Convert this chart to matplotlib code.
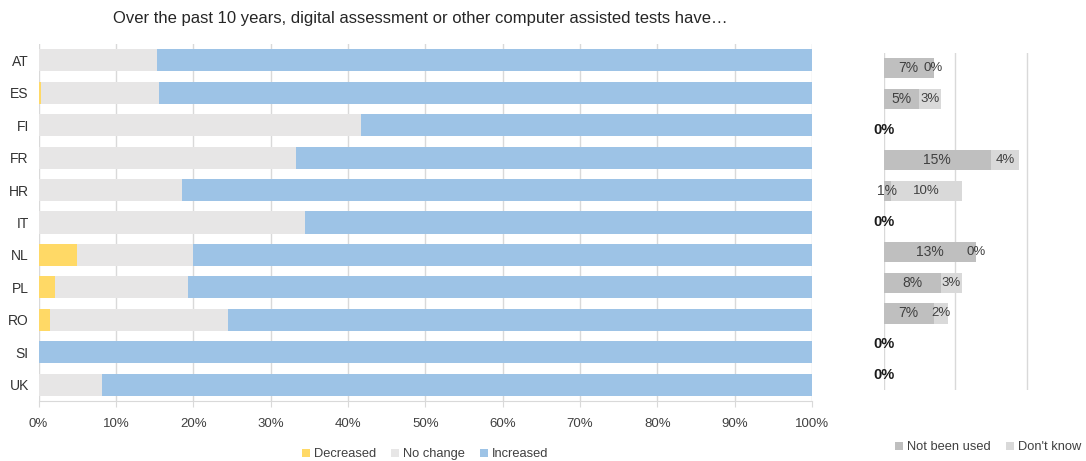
import numpy as np
import matplotlib.pyplot as plt

plt.rcParams['font.family'] = ['Liberation Sans', 'DejaVu Sans']

# Data
countries = ['AT', 'ES', 'FI', 'FR', 'HR', 'IT', 'NL', 'PL', 'RO', 'SI', 'UK']
decreased = [0.0, 0.3, 0.0, 0.0, 0.0, 0.0, 5.0, 2.1, 1.5, 0.0, 0.0]
no_change = [15.3, 15.3, 41.7, 33.3, 18.6, 34.5, 15.0, 17.2, 23.0, 0.0, 8.2]
increased = [100 - d - n for d, n in zip(decreased, no_change)]

not_used = [7, 5, 0, 15, 1, 0, 13, 8, 7, 0, 0]
dont_know = [0, 3, 0, 4, 10, 0, 0, 3, 2, 0, 0]
has_bar = [True, True, False, True, True, False, True, True, True, False, False]

title = 'Over the past 10 years, digital assessment or other computer assisted tests have…'

c_dec = '#FFD966'
c_nc = '#E7E6E6'
c_inc = '#9DC3E6'
c_nu = '#BFBFBF'
c_dk = '#D9D9D9'
txt = '#404040'

W, H = 1086, 461
fig = plt.figure(figsize=(W / 100, H / 100), dpi=100)

# left panel
ax1 = fig.add_axes([38.5 / W, 1 - 401 / H, (812 - 38.5) / W, (401 - 44) / H])
y = np.arange(len(countries))
left = np.zeros(len(countries))
for vals, col, lab in [(decreased, c_dec, 'Decreased'), (no_change, c_nc, 'No change'),
                       (increased, c_inc, 'Increased')]:
    ax1.barh(y, vals, left=left, height=0.68, color=col, label=lab, zorder=2)
    left += np.array(vals)
ax1.set_xlim(0, 100)
ax1.set_ylim(len(countries) - 0.5, -0.5)
ax1.set_yticks(y)
ax1.set_yticklabels(countries, fontsize=10, color='#333333')
ax1.set_xticks(np.arange(0, 101, 10))
ax1.set_xticklabels([f'{v}%' for v in range(0, 101, 10)], fontsize=9.5, color=txt)
ax1.tick_params(axis='y', length=0, pad=7)
ax1.tick_params(axis='x', length=4, color='#D9D9D9', pad=8)
ax1.grid(axis='x', color='#D9D9D9', linewidth=1, zorder=0)
for s in ['top', 'right', 'left']:
    ax1.spines[s].set_visible(False)
ax1.spines['bottom'].set_color('#D9D9D9')
ax1.legend(loc='upper center', bbox_to_anchor=(0.5, -0.1), ncol=3, frameon=False,
           fontsize=9.3, handlelength=0.6, handleheight=0.6, handletextpad=0.3,
           columnspacing=1.2, labelcolor=txt)

fig.text(113 / W, 1 - 18 / H, title, fontsize=12, color='#262626', va='center')

# right panel
ax2 = fig.add_axes([883.5 / W, 1 - 390 / H, (1086 - 883.5) / W, (390 - 53) / H])
ax2.barh(y, not_used, height=0.66, color=c_nu, label='Not been used', zorder=2)
ax2.barh(y, dont_know, left=not_used, height=0.66, color=c_dk, label="Don't know", zorder=2)
for i in range(len(countries)):
    if has_bar[i]:
        ax2.text(not_used[i] / 2, i, f'{not_used[i]}%', ha='center', va='center',
                 fontsize=10, color=txt, zorder=3)
        ax2.text(not_used[i] + dont_know[i] / 2, i, f'{dont_know[i]}%', ha='center',
                 va='center', fontsize=9.5, color=txt, zorder=3)
    else:
        ax2.text(0, i, '0%', ha='center', va='center', fontsize=10.5, fontweight='bold',
                 color='#1a1a1a', zorder=3)
ax2.set_xlim(0, (1086 - 883.5) / 7.15)
ax2.set_ylim(len(countries) - 0.5, -0.5)
ax2.set_xticks([0, 10, 20])
ax2.grid(axis='x', color='#D9D9D9', linewidth=1, zorder=0)
ax2.tick_params(length=0, labelbottom=False, labelleft=False)
for s in ax2.spines.values():
    s.set_visible(False)
ax2.legend(loc='center left', bbox_to_anchor=(0.0, -0.17), ncol=2,
           frameon=False, fontsize=9.3, handlelength=0.6, handleheight=0.6,
           handletextpad=0.3, columnspacing=1.2, labelcolor=txt)

fig.savefig('out.png', dpi=100)
